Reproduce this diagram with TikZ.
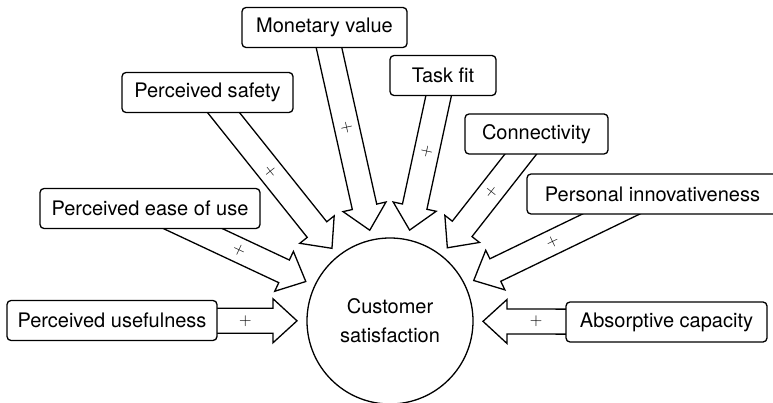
\documentclass[tikz,border=0pt]{standalone}
\usepackage{fontspec}
\setmainfont{TeX Gyre Heros}
\usetikzlibrary{calc,backgrounds}
\newcommand\blockarr[1]{%
  \coordinate (#1T) at ($(cs.center)!93pt!(#1.center)$);
  \coordinate (#1H) at ($(#1T)!24pt!(#1.center)$);
  \draw[blockarrow] (#1T) -- ($(#1H)!22pt!90:(#1.center)$) -- ($(#1H)!12.5pt!90:(#1.center)$)
    -- ($(#1.center)!12.5pt!-90:(#1H)$) -- ($(#1.center)!12.5pt!90:(#1H)$)
    -- ($(#1H)!12.5pt!-90:(#1.center)$) -- ($(#1H)!22pt!-90:(#1.center)$) -- cycle;
  \path (#1) -- (#1H) node[midway, plussign] (#1p) {$+$};
}
\begin{document}
\begin{tikzpicture}[x=1pt,y=1pt,
  box/.style={draw, line width=1.3pt, rounded corners=4pt, fill=white, minimum height=40pt, inner sep=0pt, font=\fontsize{20}{24}\selectfont},
  blockarrow/.style={draw, line width=1.3pt, fill=white, line join=miter},
  plussign/.style={font=\fontsize{18}{18}\selectfont, sloped, inner sep=0pt}
]
\useasboundingbox (0,0) rectangle (773,-403);
\node[draw, circle, line width=1.3pt, minimum size=166pt, inner sep=0pt, align=center,
  font=\fontsize{20}{29}\selectfont] (cs) at (390,-321) {Customer\\satisfaction};
\node[box, minimum width=210pt] (pu) at (112,-320.5) {Perceived usefulness};
\node[box, minimum width=220pt] (pe) at (150,-208.5) {Perceived ease of use};
\node[box, minimum width=171pt] (ps) at (207.5,-92.5) {Perceived safety};
\node[box, minimum width=165pt] (mv) at (324.5,-27.5) {Monetary value};
\node[box, minimum width=106pt] (tf) at (443,-75.5) {Task fit};
\node[box, minimum width=143pt] (co) at (536.5,-134) {Connectivity};
\node[box, minimum width=251pt] (pi) at (652.5,-194) {Personal innovativeness};
\node[box, minimum width=201pt] (ac) at (666.5,-322) {Absorptive capacity};
\begin{scope}[on background layer]
\blockarr{pu}
\blockarr{pe}
\blockarr{ps}
\blockarr{mv}
\blockarr{tf}
\blockarr{co}
\blockarr{pi}
\blockarr{ac}
\end{scope}
\end{tikzpicture}
\end{document}
